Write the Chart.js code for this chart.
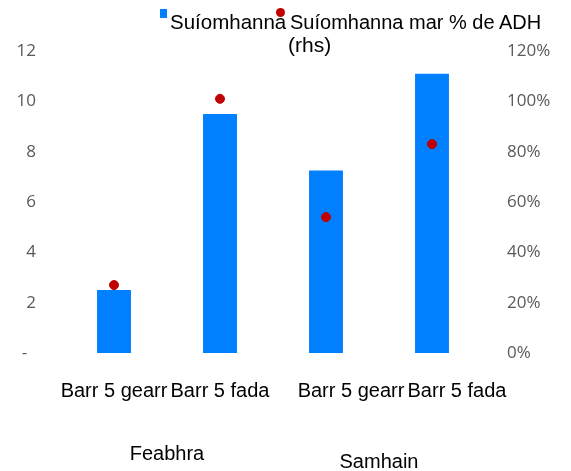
<!DOCTYPE html>
<html>
<head>
<meta charset="utf-8">
<script src="https://cdn.jsdelivr.net/npm/chart.js@4"></script>
<style>
  html, body { margin: 0; padding: 0; background: #fff; }
  #wrap { position: relative; width: 571px; height: 471px; }
  #legend { position: absolute; left: 0; top: 0; width: 571px; height: 60px;
    font-family: "Liberation Sans", Arial, sans-serif; font-size: 20.5px; color: #000; }
  #legend .box { position: absolute; left: 160px; top: 9px; width: 7px; height: 9px; background: #007FFF; }
  #legend .dot { position: absolute; left: 276px; top: 8px; width: 9px; height: 9px; border-radius: 50%; background: #C00000; }
  #legend .t1 { position: absolute; left: 170px; top: 10px; line-height: 24px; }
  #legend .t2 { position: absolute; left: 290px; top: 10px; line-height: 24px; font-size: 20px; }
  #legend .t3 { position: absolute; left: 288px; top: 33px; line-height: 24px; font-size: 21px; }
</style>
</head>
<body>
<div id="wrap">
  <canvas id="chart" width="571" height="471"></canvas>
  <div id="legend">
    <span class="t1" id="lg1"></span>
    <span class="box"></span>
    <span class="t2" id="lg2"></span>
    <span class="dot"></span>
    <span class="t3" id="lg3"></span>
  </div>
</div>
<script>
const categories = ['Barr 5 gearr', 'Barr 5 fada', 'Barr 5 gearr', 'Barr 5 fada'];
const groups = ['Feabhra', 'Samhain'];
const sites = [2.5, 9.5, 7.25, 11.1];
const sitesPctGdp = [27, 101, 54, 83];
const leftTicks = [0, 2, 4, 6, 8, 10, 12];
const rightTicks = [0, 20, 40, 60, 80, 100, 120];
const barLabel = 'Suíomhanna';
const dotLabel = 'Suíomhanna mar % de ADH';
const dotLabelNote = '(rhs)';

document.querySelector('#lg1').textContent = barLabel;
document.querySelector('#lg2').textContent = dotLabel;
document.querySelector('#lg3').textContent = dotLabelNote;

const tickFont = { family: '"Open Sans", sans-serif', size: 17 };
const catFont = { family: '"Liberation Sans", Arial, sans-serif', size: 20 };

new Chart(document.getElementById('chart').getContext('2d'), {
    type: 'bar',
    data: {
        labels: categories,
        datasets: [{
            type: 'line',
            label: dotLabel + ' ' + dotLabelNote,
            data: sitesPctGdp,
            yAxisID: 'y1',
            showLine: false,
            pointRadius: 4.5,
            pointHoverRadius: 4.5,
            pointBackgroundColor: '#C00000',
            pointBorderColor: '#C00000',
            pointBorderWidth: 1,
            order: 0
        }, {
            label: barLabel,
            data: sites,
            yAxisID: 'y',
            backgroundColor: '#007FFF',
            barPercentage: 0.32,
            categoryPercentage: 1,
            order: 1
        }]
    },
    options: {
        responsive: false,
        animation: false,
        layout: { padding: { top: 51, left: 0, right: 0, bottom: 0 } },
        plugins: { legend: { display: false }, tooltip: { enabled: false } },
        scales: {
            x: {
                grid: { display: false },
                border: { display: false },
                ticks: {
                    color: '#000', font: catFont, padding: 18, maxRotation: 0, autoSkip: false,
                    // second group sits a little to the right in the original
                    callback: (v, i) => (i >= 2 ? '\u00a0'.repeat(9) : '') + categories[i]
                },
                afterFit: s => { s.height = 60; }
            },
            x2: {
                type: 'category',
                position: 'bottom',
                labels: groups,
                offset: true,
                grid: { display: false },
                border: { display: false },
                ticks: {
                    color: '#000', padding: 21, maxRotation: 0, autoSkip: false,
                    font: ctx => ({ ...catFont, lineHeight: ctx.index === 1 ? '40px' : '24px' })
                },
                afterFit: s => { s.height = 471 - 353 - 60; }
            },
            y: {
                position: 'left',
                min: 0,
                max: 12,
                grid: { display: false },
                border: { display: false },
                afterBuildTicks: s => { s.ticks = leftTicks.map(v => ({ value: v })); },
                ticks: {
                    color: '#595959', font: tickFont, padding: 17,
                    callback: v => v === 0 ? '-\u00a0\u00a0' : v
                },
                afterFit: s => { s.width = 61; }
            },
            y1: {
                position: 'right',
                min: 0,
                max: 120,
                grid: { display: false },
                border: { display: false },
                afterBuildTicks: s => { s.ticks = rightTicks.map(v => ({ value: v })); },
                ticks: {
                    color: '#595959', font: tickFont, padding: 14,
                    callback: v => v + '%'
                },
                afterFit: s => { s.width = 571 - 485; }
            }
        }
    }
});
</script>
</body>
</html>
